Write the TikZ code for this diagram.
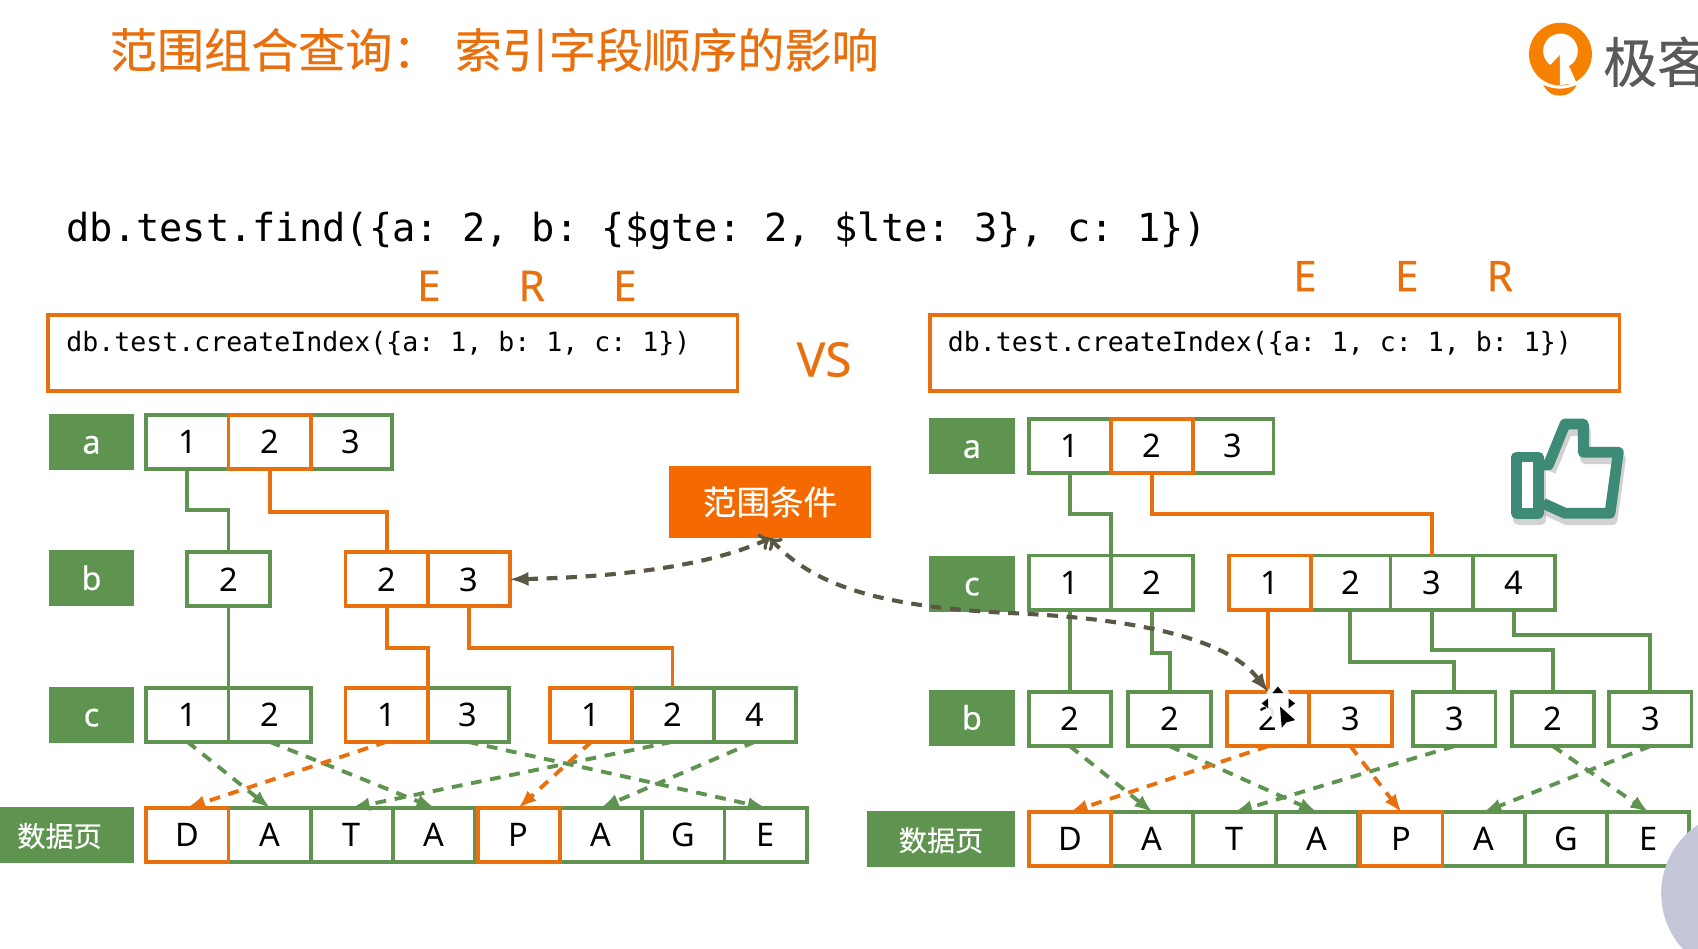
\documentclass[tikz,border=0pt]{standalone}
\usepackage{fontspec}
\setmainfont{Noto Sans}
\setmonofont{DejaVu Sans Mono}
\newfontfamily\cjk[FakeBold=0.3]{Noto Sans CJK SC}
\newfontfamily\semi[FakeBold=0.4]{Noto Sans}
\definecolor{leaf}{HTML}{5F9450}
\definecolor{rust}{HTML}{E8700F}
\definecolor{flame}{HTML}{F46A00}
\definecolor{teal}{HTML}{3D8B77}
\definecolor{umber}{HTML}{5B5745}
\definecolor{slate}{HTML}{C4C7D8}
\tikzset{
    cell/.style={draw=leaf, fill=white, line width=1.8pt, minimum width=38pt,
        minimum height=25pt, inner sep=0pt, outer sep=0pt, text height=10.8pt,
        text depth=0pt, font=\fontsize{15}{18}\selectfont},
    hotcell/.style={cell, draw=rust},
    tag/.style={fill=leaf, text=white, minimum height=26pt, inner sep=0pt,
        text height=10.8pt, text depth=0pt, font=\semi\fontsize{15}{18}\selectfont},
    pagetag/.style={tag, font=\cjk\fontsize{13}{16}\selectfont},
    codebox/.style={draw=rust, line width=1.8pt, minimum width=318.5pt,
        minimum height=35pt, inner sep=0pt, outer sep=0pt},
    letter/.style={text=rust, inner sep=0pt, font=\semi\fontsize{19.5}{22}\selectfont},
    link/.style={draw=leaf, line width=1.8pt},
    hotlink/.style={draw=rust, line width=1.8pt},
    ptr/.style={draw=leaf, line width=1.8pt, dash pattern=on 5pt off 4pt, -latex},
    hotptr/.style={ptr, draw=rust},
    hint/.style={draw=umber, line width=1.9pt, dash pattern=on 5pt off 4pt, to-latex}
}

\begin{document}
\begin{tikzpicture}[x=0.5pt, y=-0.5pt]
    \useasboundingbox (0,0) rectangle (1568,876);
    \node[anchor=west, inner sep=0pt, text=rust, font=\cjk\fontsize{21.75}{26}\selectfont]
        (title) at (101,46) {范围组合查询：\hspace{7pt}索引字段顺序的影响};
    \node[anchor=west, inner sep=0pt, font=\ttfamily\fontsize{17.85}{22}\selectfont]
        (query) at (61,213) {db.test.find(\{a: 2, b: \{\$gte: 2, \$lte: 3\}, c: 1\})};

    \node[letter] (le1) at (396,264) {E};
    \node[letter] (lr) at (491,264) {R};
    \node[letter] (le2) at (577,264) {E};
    \node[letter] (re1) at (1205,255) {E};
    \node[letter] (re2) at (1299,255) {E};
    \node[letter] (rr) at (1385,255) {R};
    \node[text=rust, inner sep=0pt, font=\semi\fontsize{22}{26}\selectfont] (vs) at (761,332) {VS};

    \node[codebox] (lbox) at (362.5,326) {};
    \node[codebox] (rbox) at (1177,326) {};
    \node[anchor=west, inner sep=0pt, font=\ttfamily\fontsize{12.27}{15}\selectfont]
        (lcode) at (61,317) {db.test.createIndex(\{a: 1, b: 1, c: 1\})};
    \node[anchor=west, inner sep=0pt, font=\ttfamily\fontsize{12.27}{15}\selectfont]
        (rcode) at (875,317) {db.test.createIndex(\{a: 1, c: 1, b: 1\})};

    % left tree
    \node[tag, minimum width=39.5pt] (lta) at (84.5,408) {a};
    \node[tag, minimum width=39.5pt] (ltb) at (84.5,534) {b};
    \node[tag, minimum width=39.5pt] (ltc) at (84.5,660) {c};
    \node[pagetag, minimum width=62pt] (ltd) at (62,771) {数据页\kern7pt};

    \node[cell] (a1) at (173,408) {1};
    \node[cell] (a3) at (324,408) {3};
    \node[hotcell] (a2) at (249,408) {2};
    \node[cell] (b1) at (211,535) {2};
    \node[hotcell] (b2) at (357,535) {2};
    \node[hotcell] (b3) at (433,535) {3};
    \node[cell] (c1) at (173,660) {1};
    \node[cell] (c2) at (249,660) {2};
    \node[cell] (c4) at (432,660) {3};
    \node[hotcell] (c3) at (357,660) {1};
    \node[cell] (c6) at (621,660) {2};
    \node[cell] (c7) at (697,660) {4};
    \node[hotcell] (c5) at (546,660) {1};
    \node[cell] (d2) at (249,771) {A};
    \node[cell] (d3) at (325,771) {T};
    \node[cell] (d4) at (401,771) {A};
    \node[cell] (d6) at (555,771) {A};
    \node[cell] (d7) at (631,771) {G};
    \node[cell] (d8) at (707,771) {E};
    \node[hotcell] (d1) at (173,771) {D};
    \node[hotcell] (d5) at (479,771) {P};

    \draw[link] (a1.south) -- ++(0,38) -| (b1.north);
    \draw[link] (b1.south) -- (c1.north east);
    \draw[hotlink] (a2.south) -- ++(0,40) -| (b2.north);
    \draw[hotlink] (b2.south) -- ++(0,38) -| (c3.north east);
    \draw[hotlink] (b3.south) -- ++(0,38) -| (c6.north);

    \draw[ptr] (c1.south) -- (d2.north);
    \draw[ptr] (c2.south) -- (d4.north);
    \draw[ptr] (c4.south) -- (d8.north);
    \draw[ptr] (c6.south) -- (d3.north);
    \draw[ptr] (c7.south) -- (d6.north);
    \draw[hotptr] (c3.south) -- (d1.north);
    \draw[hotptr] (c5.south) -- (d5.north);

    % right tree
    \node[tag, minimum width=39.5pt] (rta) at (897.5,412) {a};
    \node[tag, minimum width=39.5pt] (rtc) at (897.5,539) {c};
    \node[tag, minimum width=39.5pt] (rtb) at (897.5,663) {b};
    \node[pagetag, minimum width=68pt] (rtd) at (869,775) {数据页};

    \node[cell] (ra1) at (988,412) {1};
    \node[cell] (ra3) at (1138,412) {3};
    \node[hotcell] (ra2) at (1064,412) {2};
    \node[cell] (rc1) at (988,538) {1};
    \node[cell] (rc2) at (1064,538) {2};
    \node[cell] (rc4) at (1247,538) {2};
    \node[cell] (rc5) at (1322,538) {3};
    \node[cell] (rc6) at (1398,538) {4};
    \node[hotcell] (rc3) at (1173,538) {1};
    \node[cell] (rb1) at (988,664) {2};
    \node[cell] (rb2) at (1080,664) {2};
    \node[cell] (rb5) at (1343,664) {3};
    \node[cell] (rb6) at (1434,664) {2};
    \node[cell] (rb7) at (1524,664) {3};
    \node[hotcell] (rb3) at (1171,664) {2};
    \node[hotcell] (rb4) at (1247,664) {3};
    \node[cell] (rd2) at (1064,775) {A};
    \node[cell] (rd3) at (1140,775) {T};
    \node[cell] (rd4) at (1216,775) {A};
    \node[cell] (rd6) at (1370,775) {A};
    \node[cell] (rd7) at (1446,775) {G};
    \node[cell] (rd8) at (1522,775) {E};
    \node[hotcell] (rd1) at (988,775) {D};
    \node[hotcell] (rd5) at (1294,775) {P};

    \draw[link] (ra1.south) -- ++(0,38) -| (rc1.north east);
    \draw[link] (rc1.south) -- (rb1.north);
    \draw[link] (rc2.south) -- ++(0,40) -| (rb2.north);
    \draw[link] (rc4.south) -- ++(0,48) -| (rb5.north);
    \draw[link] (rc5.south) -- ++(0,37) -| (rb6.north);
    \draw[link] (rc6.south) -- ++(0,23) -| (rb7.north);
    \draw[hotlink] (ra2.south) -- ++(0,38) -| (rc5.north);
    \draw[hotlink] (rc3.south) ++(-2,0) -- (rb3.north);

    \draw[ptr] (rb1.south) -- (rd2.north);
    \draw[ptr] (rb2.south) -- (rd4.north);
    \draw[ptr] (rb5.south) -- (rd3.north);
    \draw[ptr] (rb6.south) -- (rd8.north);
    \draw[ptr] (rb7.south) -- (rd6.north);
    \draw[hotptr] (rb3.south) -- (rd1.north);
    \draw[hotptr] (rb4.south) -- (rd5.north);

    \node[fill=flame, text=white, minimum width=93pt, minimum height=33.5pt, inner sep=0pt,
        outer sep=0pt, font=\cjk\fontsize{15.5}{18}\selectfont] (cond) at (711,463.5) {范围条件};
    \draw[hint] (cond.south) .. controls (650,525) and (560,533) .. (b3.east);
    \draw[hint] (cond.south) .. controls (750,540) and (810,560) .. (930,566)
        .. controls (1030,570) and (1130,585) .. (rb3.north);

    % thumb
    \begin{scope}[line width=5pt, line join=round]
        \draw[black!35, opacity=0.5, xshift=1pt, yshift=-3pt] (1400.6,422) rectangle (1420.6,474);
        \draw[black!35, opacity=0.5, xshift=1pt, yshift=-3pt] (1429.8,429.4) -- (1445.2,391.6)
            -- (1462.1,391.6) -- (1462.1,417.7) -- (1494.4,417.7) -- (1486.7,474)
            -- (1445.2,474) -- (1425,464.8);
        \draw[teal, fill=white] (1400.6,422) rectangle (1420.6,474);
        \draw[teal] (1420.6,429.4) -- (1429.8,429.4) -- (1445.2,391.6) -- (1462.1,391.6)
            -- (1462.1,417.7) -- (1494.4,417.7) -- (1486.7,474) -- (1445.2,474) -- (1425,464.8);
    \end{scope}

    % logo
    \fill[flame!85!yellow] (1441,50) circle (14.5pt);
    \fill[white] (1441,47) circle (8pt);
    \fill[flame!85!yellow] (1440.5,50.8) -- (1428.9,63) -- (1440.5,78.5) -- cycle;
    \fill[white] (1440.5,50.8) -- (1449.8,63) -- (1456,77) -- (1440.5,78.5) -- cycle;
    \fill[flame!85!yellow] (1425.2,78.5) .. controls (1435,83) and (1446,83) .. (1456,78.5)
        .. controls (1452,86) and (1447,88.3) .. (1440.5,88.3)
        .. controls (1434,88.3) and (1429,86) .. (1425.2,78.5) -- cycle;
    \node[anchor=west, inner sep=0pt, text=black!65, font=\cjk\fontsize{25}{30}\selectfont]
        (brand) at (1480,57) {极客};

    % pointer
    \fill[white, opacity=0.9] (1180,648) ellipse (6pt and 8pt);
    \fill[black] (1182,652.5) -- (1196,665) -- (1188,667) -- (1183.6,672) -- cycle;
    \fill[black] (1180,634) -- (1175,640) -- (1185,640) -- cycle;
    \fill[black] (1165,649.5) -- (1171,645) -- (1171,654) -- cycle;
    \fill[black] (1196,649.5) -- (1190,645) -- (1190,654) -- cycle;

    \fill[slate] (1610,825) circle (38pt);
\end{tikzpicture}
\end{document}
